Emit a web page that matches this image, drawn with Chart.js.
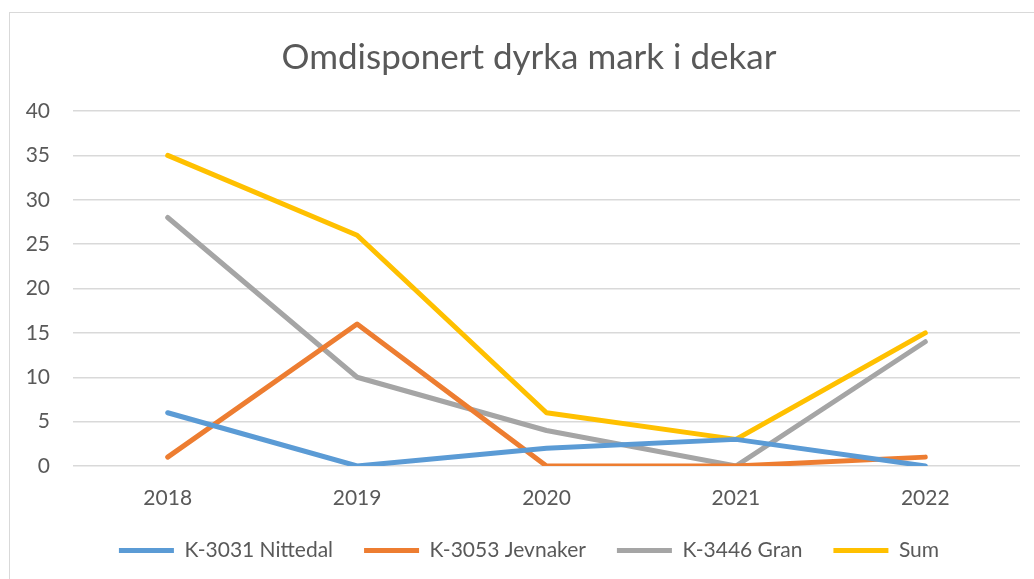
<!DOCTYPE html>
<html>
<head>
<meta charset="utf-8">
<script src="https://cdn.jsdelivr.net/npm/chart.js@4/dist/chart.umd.min.js"></script>
<style>
  html, body { margin: 0; padding: 0; background: #fff; overflow: hidden; }
  body { width: 1034px; height: 579px; position: relative; }
  #wrap {
    position: absolute; left: 9px; top: 12px;
    width: 1040px; height: 600px;
    border: 1px solid #d9d9d9; box-sizing: border-box;
  }
  #wrap canvas { display: block; }
</style>
</head>
<body>
<div id="wrap"><canvas id="omdChart" width="1038" height="598"></canvas></div>
<script>
// Omdisponert dyrka mark (dekar) per kommune
const aar = ['2018', '2019', '2020', '2021', '2022'];
const nittedal = [6, 0, 2, 3, 0];
const jevnaker = [1, 16, 0, 0, 1];
const gran = [28, 10, 4, 0, 14];
const sum = [35, 26, 6, 3, 15];

const serieNavn = ['K-3031 Nittedal', 'K-3053 Jevnaker', 'K-3446 Gran', 'Sum'];
const farger = ['#5b9bd5', '#ed7d31', '#a5a5a5', '#ffc000'];

const tekstFarge = '#595959';
const fontNavn = 'Lato, "Liberation Sans", sans-serif';

function lagSerie(navn, data, farge) {
    return {
        label: navn,
        data: data,
        borderColor: farge,
        backgroundColor: farge,
        borderWidth: 5,
        borderCapStyle: 'round',
        borderJoinStyle: 'round',
        pointRadius: 0,
        pointHoverRadius: 0,
        tension: 0,
        fill: false
    };
}

new Chart(document.getElementById('omdChart'), {
    type: 'line',
    data: {
        labels: aar,
        datasets: [
            lagSerie(serieNavn[0], nittedal, farger[0]),
            lagSerie(serieNavn[1], jevnaker, farger[1]),
            lagSerie(serieNavn[2], gran, farger[2]),
            lagSerie(serieNavn[3], sum, farger[3])
        ]
    },
    options: {
        responsive: false,
        animation: false,
        layout: { padding: { left: 0, right: 0, top: 0, bottom: 40 } },
        plugins: {
            title: {
                display: true,
                text: 'Omdisponert dyrka mark i dekar',
                color: tekstFarge,
                font: { family: fontNavn, size: 35, weight: 'normal' },
                padding: { top: 24, bottom: 32 }
            },
            legend: {
                position: 'bottom',
                align: 'center',
                labels: {
                    color: tekstFarge,
                    font: { family: fontNavn, size: 21 },
                    usePointStyle: true,
                    pointStyle: 'line',
                    pointStyleWidth: 55,
                    padding: 31
                }
            },
            tooltip: { enabled: false }
        },
        scales: {
            x: {
                offset: true,
                grid: { display: false, drawTicks: false },
                border: { display: false },
                ticks: { color: tekstFarge, font: { family: fontNavn, size: 21 }, padding: 20 },
                afterFit(s) { s.height = 43; }
            },
            y: {
                min: 0,
                max: 40,
                grid: { color: '#d9d9d9', lineWidth: 1.5, drawTicks: false },
                border: { display: false },
                ticks: { stepSize: 5, color: tekstFarge, font: { family: fontNavn, size: 21 }, padding: 23 },
                afterFit(s) { s.width = 63; }
            },
            hoyre: {
                position: 'right',
                display: true,
                grid: { display: false, drawTicks: false },
                border: { display: false },
                ticks: { display: false },
                afterFit(s) { s.width = 28; }
            }
        }
    }
});
</script>
</body>
</html>
